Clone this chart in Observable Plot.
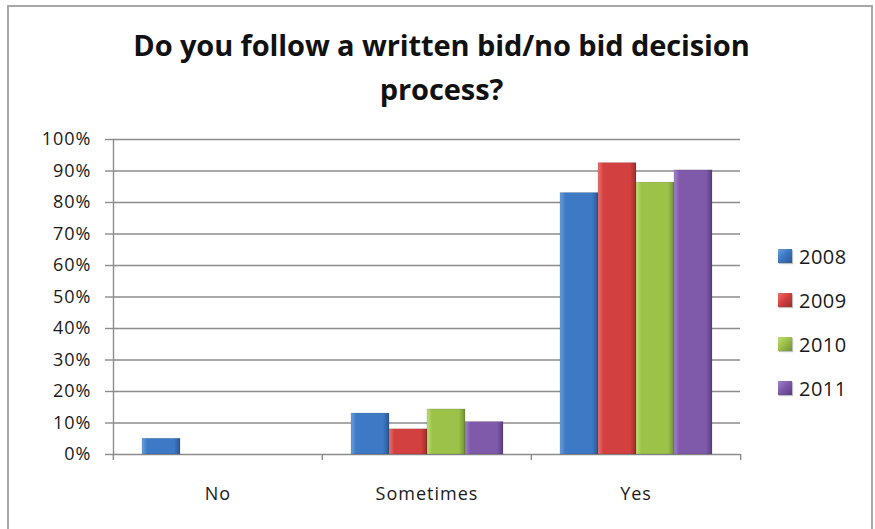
<!DOCTYPE html>
<html>
<head>
<meta charset="utf-8">
<script src="https://cdn.jsdelivr.net/npm/d3@7"></script>
<script src="https://cdn.jsdelivr.net/npm/@observablehq/plot@0.6"></script>
<style>
  html, body { margin: 0; padding: 0; background: #fff; overflow: hidden; }
  #wrap { position: relative; width: 875px; height: 529px; overflow: hidden; font-family: "Open Sans", sans-serif; }
  #border { position: absolute; left: 7px; top: 5px; width: 866px; height: 540px; border: 2px solid #a8a8a8; box-sizing: border-box; }
  #title { position: absolute; left: 4px; top: 0; width: 875px; height: 110px; box-sizing: border-box; padding-top: 23px;
           text-align: center; font-weight: 700; font-size: 29px; line-height: 44px; color: #111; letter-spacing: -0.1px; }
  #plot { position: absolute; left: 0; top: 110px; }
  #legend { position: absolute; left: 778px; top: 0; }
  .item { position: absolute; left: 0; display: flex; align-items: center; white-space: nowrap; font-size: 20px; color: #1a1a1a; height: 30px; letter-spacing: 0.5px; }
  .sw { width: 14px; height: 14px; margin-right: 7px; box-shadow: 1px 1px 1px rgba(0,0,0,0.25); }
</style>
</head>
<body>
<div id="wrap">
  <div id="border"></div>
  <div id="title">Do you follow a written bid/no bid decision<br>process?</div>
  <div id="plot"></div>
  <div id="legend"></div>
</div>
<script>
// ---- data ----
const categories = ["No", "Sometimes", "Yes"];
const years = ["2008", "2009", "2010", "2011"];
const v2008 = [0.05, 0.13, 0.83];
const v2009 = [0.0, 0.08, 0.925];
const v2010 = [0.0, 0.143, 0.863];
const v2011 = [0.0, 0.103, 0.902];
const yTicks = [0, 0.1, 0.2, 0.3, 0.4, 0.5, 0.6, 0.7, 0.8, 0.9, 1.0];
const baseColors = ["#3d79c4", "#d2413f", "#9cc24a", "#7f5aaa"];
const lightColors = ["#6aa0e0", "#ec7270", "#bde070", "#a283cc"];
const darkColors = ["#2a5894", "#9e2c2b", "#738f35", "#5b3e82"];

const series = [v2008, v2009, v2010, v2011];
const data = [];
years.forEach((yr, j) => categories.forEach((c, i) => data.push({cat: c, year: yr, value: series[j][i]})));

const W = 875, H = 419, mL = 112, mR = 135, mT = 29, mB = 75;
const bw = (W - mL - mR) / categories.length;
const grid = "#8c8c8c";

const chart = Plot.plot({
  width: W, height: H,
  marginLeft: mL, marginRight: mR, marginTop: mT, marginBottom: mB,
  style: {fontFamily: "Open Sans", fontSize: "18px", color: "#1a1a1a", background: "transparent", overflow: "visible", letterSpacing: "1px"},
  fx: {domain: categories, padding: 0, label: null},
  x: {domain: years, paddingInner: 0, paddingOuter: 0.72, axis: null},
  y: {domain: [0, 1], label: null},
  color: {domain: years, range: years.map(y => `url(#grad${y})`)},
  marks: [
    Plot.ruleY(yTicks, {stroke: grid, strokeWidth: 1.4}),
    Plot.frame({anchor: "left", facetAnchor: "left", stroke: grid, strokeWidth: 1.4}),
    Plot.axisY(yTicks, {tickFormat: d3.format(".0%"), tickSize: 8, tickPadding: 14, stroke: grid, strokeWidth: 1.4, fill: "#1a1a1a", fontSize: 18, label: null}),
    Plot.barY(data.filter(d => d.value > 0), {fx: "cat", x: "year", y: "value", fill: "year",
      stroke: "rgba(0,0,0,0.15)", strokeWidth: 0.8,
      style: "filter: drop-shadow(2px 2px 2px rgba(0,0,0,0.3))"}),
    Plot.axisFx({anchor: "bottom", tickSize: 6, dx: -bw / 2, tickFormat: () => "", stroke: grid, strokeWidth: 1.4, label: null}),
    Plot.axisFx({anchor: "bottom", ticks: ["Yes"], tickSize: 6, dx: bw / 2, tickFormat: () => "", stroke: grid, strokeWidth: 1.4, label: null}),
    Plot.axisFx({anchor: "bottom", tickSize: 0, tickPadding: 33, fill: "#1a1a1a", fontSize: 18, label: null})
  ]
});

// gradients for the bevelled Excel-style bars
const defs = d3.select(chart).insert("defs", ":first-child");
years.forEach((y, j) => {
  const g = defs.append("linearGradient").attr("id", `grad${y}`).attr("x1", 0).attr("x2", 1).attr("y1", 0).attr("y2", 0);
  g.append("stop").attr("offset", "0%").attr("stop-color", lightColors[j]);
  g.append("stop").attr("offset", "14%").attr("stop-color", baseColors[j]);
  g.append("stop").attr("offset", "84%").attr("stop-color", baseColors[j]);
  g.append("stop").attr("offset", "100%").attr("stop-color", darkColors[j]);
});
document.getElementById("plot").appendChild(chart);

// legend
const legend = d3.select("#legend");
const centers = [256, 300, 344, 388];
years.forEach((y, j) => {
  const it = legend.append("div").attr("class", "item").style("top", (centers[j] - 15) + "px");
  it.append("div").attr("class", "sw")
    .style("background", `linear-gradient(135deg, ${lightColors[j]} 0%, ${baseColors[j]} 45%, ${darkColors[j]} 100%)`);
  it.append("span").text(y);
});
</script>
</body>
</html>
